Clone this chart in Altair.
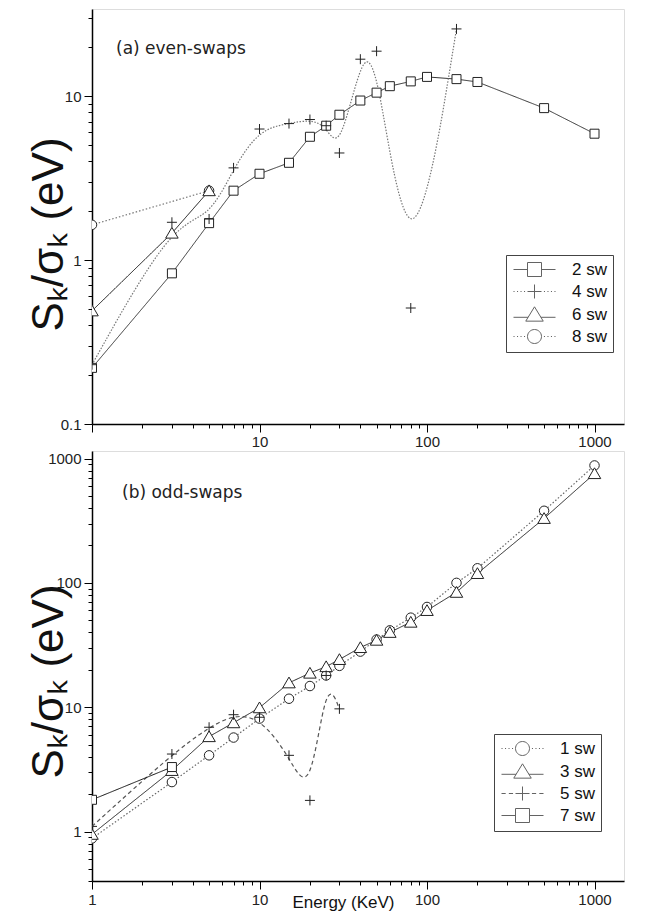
import altair as alt
import pandas as pd

# ---------------- (a) even-swaps ----------------
top_names = ["2 sw", "4 sw", "6 sw", "8 sw"]
x_2sw = [1, 3, 5, 7, 10, 15, 20, 25, 30, 40, 50, 60, 80, 100, 150, 200, 500, 1000]
y_2sw = [0.22, 0.83, 1.68, 2.65, 3.36, 3.92, 5.65, 6.6, 7.7, 9.4, 10.5, 11.5, 12.3, 13.1, 12.7, 12.2, 8.45, 5.9]
x_4sw = [1, 3, 5, 7, 10, 15, 20, 25, 30, 40, 50, 80, 150]
y_4sw = [0.23, 1.7, 1.78, 3.65, 6.3, 6.8, 7.2, 6.6, 4.5, 16.8, 18.8, 0.51, 25.7]
x_6sw = [1, 3, 5]
y_6sw = [0.49, 1.46, 2.65]
x_8sw = [1, 5]
y_8sw = [1.64, 2.65]

# ---------------- (b) odd-swaps ----------------
bot_names = ["1 sw", "3 sw", "5 sw", "7 sw"]
x_1sw = [1, 3, 5, 7, 10, 15, 20, 25, 30, 40, 50, 60, 80, 100, 150, 200, 500, 1000]
y_1sw = [0.88, 2.5, 4.1, 5.7, 8.1, 11.7, 14.8, 18.0, 21.5, 28.0, 35.0, 41.5, 52.5, 64.0, 100.0, 131.0, 380.0, 880.0]
x_3sw = [1, 3, 5, 7, 10, 15, 20, 25, 30, 40, 50, 60, 80, 100, 150, 200, 500, 1000]
y_3sw = [0.95, 3.1, 5.8, 7.5, 9.9, 15.7, 18.8, 21.2, 24.2, 30.2, 34.6, 40.0, 48.3, 60.0, 84.0, 119.0, 330.0, 757.0]
x_5sw = [1, 3, 5, 7, 10, 15, 20, 25, 30]
y_5sw = [1.1, 4.2, 6.9, 8.7, 8.3, 4.1, 1.78, 18.0, 9.7]
x_7sw = [1, 3]
y_7sw = [1.8, 3.3]

# ---------------- axis tick values ----------------
x_ticks = [m * 10 ** e for e in range(3) for m in range(1, 10)] + [1000]
y_ticks_top = [m * 10.0 ** e for e in (-1, 0, 1) for m in range(1, 10) if m * 10.0 ** e <= 34]
y_ticks_bot = [m * 10.0 ** e for e in (-1, 0, 1, 2) for m in range(1, 10) if m * 10.0 ** e >= 0.4] + [1000]


def frame(names, xs, ys):
    rows = []
    for n, xv, yv in zip(names, xs, ys):
        for a, b in zip(xv, yv):
            rows.append({"x": a, "y": b, "s": n})
    return pd.DataFrame(rows)


# draw order of markers (plus on top)
df_top = frame(["8 sw", "2 sw", "6 sw", "4 sw"], [x_8sw, x_2sw, x_6sw, x_4sw], [y_8sw, y_2sw, y_6sw, y_4sw])
df_bot = frame(["1 sw", "3 sw", "7 sw", "5 sw"], [x_1sw, x_3sw, x_7sw, x_5sw], [y_1sw, y_3sw, y_7sw, y_5sw])

MAJOR = "abs(log(datum.value)/LN10 - round(log(datum.value)/LN10)) < 0.001"
TICK = {"condition": {"test": MAJOR, "value": 8}, "value": 4}
LAB = "#222"
FONT = "Liberation Sans"
YTITLE = "S\u2096/\u03c3\u2096 (eV)"


def x_axis(show_one, title=None, pad=3):
    expr = MAJOR + (" && datum.value >= 1" if show_one else " && datum.value > 1")
    if title:
        kw = dict(title=title, titleX=251, titleY=26, titleAlign="center", titleBaseline="alphabetic",
                  titleFont=FONT, titleFontSize=17, titleFontWeight="normal", titleColor="#111")
    else:
        kw = dict(title=None)
    return alt.Axis(values=x_ticks, labelExpr=f"({expr}) ? format(datum.value, '~g') : ''",
                    tickSize=TICK, labelOverlap=False, labelFlush=False, labelPadding=pad,
                    labelFont=FONT, labelFontSize=15, labelColor=LAB, grid=False,
                    domainColor="#000", domainWidth=1.5, tickColor="#000", tickWidth=1, **kw)


def y_axis(values, title_y):
    return alt.Axis(values=values, labelExpr=f"({MAJOR}) ? format(datum.value, '~g') : ''",
                    tickSize=TICK, labelOverlap=False, labelPadding=3,
                    labelFont=FONT, labelFontSize=15, labelColor=LAB, grid=False,
                    domainColor="#000", domainWidth=1.5, tickColor="#000", tickWidth=1,
                    title=YTITLE, titleX=-43, titleY=title_y, titleAngle=-90, titleAlign="center",
                    titleBaseline="middle", titleFont=FONT, titleFontSize=44, titleFontWeight="normal",
                    titleColor="#111")


# marker paths (unit box, size 100 -> 10 px)
SQ = "M-0.9,-0.9H0.9V0.9H-0.9Z"
PL = "M-1,0H1M0,-1V1"
TR = "M0,-1.15L1.25,1H-1.25Z"
CI = "M0.95,0A0.95,0.95 0 1,1 -0.95,0A0.95,0.95 0 1,1 0.95,0Z"

# legend paths (size 196 -> 7 px per unit), line segments included
DOTS = "M-3,0h0.15M-2.5,0h0.15M-2,0h0.15M-1.5,0h0.15M1.35,0h0.15M1.85,0h0.15M2.35,0h0.15M2.85,0h0.15"
DASH = "M-3,0H-2.4M-1.95,0H-1.35M1.35,0H1.95M2.4,0H3"
L_SQ = "M-3,0H-1M1,0H3M-1,-1H1V1H-1Z"
L_PL_DOT = "M-1,0H1M0,-1V1" + DOTS
L_PL_DASH = "M-1,0H1M0,-1V1" + DASH
L_TR = "M0,-1.1L1.25,0.95H-1.25ZM-3,0.4H-0.92M0.92,0.4H3"
L_CI_DOT = "M1,0A1,1 0 1,1 -1,0A1,1 0 1,1 1,0Z" + DOTS


def legend(lx, ly):
    return alt.Legend(title=None, orient="none", legendX=lx, legendY=ly, direction="vertical",
                      strokeColor="#444", fillColor="white", padding=6, cornerRadius=0,
                      labelFont=FONT, labelFontSize=17, labelColor="#111", symbolSize=196,
                      symbolStrokeWidth=1, symbolStrokeColor="#222", symbolFillColor="white",
                      symbolOffset=14, labelOffset=29, rowPadding=3, labelLimit=200)


def panel(df, names, styles, xdom, ydom, xax, yax, marker_paths, legend_paths, leg, label, lab_xy, w, h):
    X = alt.X("x:Q", scale=alt.Scale(type="log", domain=xdom, nice=False), axis=xax)
    Y = alt.Y("y:Q", scale=alt.Scale(type="log", domain=ydom, nice=False), axis=yax)
    layers = []
    for name, (col, dash, interp, sw) in zip(names, styles):
        layers.append(
            alt.Chart(df).transform_filter(alt.FieldEqualPredicate(field="s", equal=name)).mark_line(
                clip=True, color=col, strokeDash=dash, interpolate=interp, strokeWidth=sw).encode(x=X, y=Y))
    pts = alt.Chart(df).mark_point(filled=True, fill="white", stroke="#222", strokeWidth=1, size=100,
                                   opacity=1, clip=True).encode(
        x=X, y=Y, shape=alt.Shape("s:N", scale=alt.Scale(domain=names, range=marker_paths), legend=None))
    legl = alt.Chart(df).transform_filter("false").mark_point(filled=False, stroke="#222", strokeWidth=1,
                                                               size=196).encode(
        x=X, y=Y, shape=alt.Shape("s:N", scale=alt.Scale(domain=names, range=legend_paths), legend=leg))
    txt = alt.Chart(pd.DataFrame({"t": [label]})).mark_text(
        align="left", baseline="middle", font="DejaVu Sans", fontSize=17, color="#222").encode(
        x=alt.value(lab_xy[0]), y=alt.value(lab_xy[1]), text="t:N")
    return alt.layer(*layers, pts, legl, txt).resolve_scale(shape="independent").properties(width=w, height=h)


top_styles = [("#333", [1, 0], "linear", 1), ("#777", [1.5, 1.5], "basis", 1.2),
              ("#111", [1, 0], "linear", 1), ("#777", [1.5, 2], "linear", 1.2)]
bot_styles = [("#666", [1.5, 2], "linear", 1.2), ("#222", [1, 0], "linear", 1),
              ("#555", [4, 3], "basis", 1.2), ("#111", [1, 0], "linear", 1)]

top = panel(df_top, top_names, top_styles, [1, 1500], [0.1, 34], x_axis(False, pad=2), y_axis(y_ticks_top, 225),
            [SQ, PL, TR, CI], [L_SQ, L_PL_DOT, L_TR, L_CI_DOT], legend(414, 246),
            "(a) even-swaps", (24, 40), 532, 415)

bottom = panel(df_bot, bot_names, bot_styles, [1, 1500], [0.4, 1150], x_axis(True, "Energy (KeV)"),
               y_axis(y_ticks_bot, 230),
               [CI, TR, PL, SQ], [L_CI_DOT, L_TR, L_PL_DASH, L_SQ], legend(402, 283),
               "(b) odd-swaps", (30, 42), 532, 430)

chart = alt.vconcat(top, bottom, spacing=0).properties(
    padding={"left": 18, "top": 0, "right": 5, "bottom": 5}
).configure_view(stroke=None).configure(background="white")

chart.save("out.html", embed_options={"renderer": "svg", "actions": False})
